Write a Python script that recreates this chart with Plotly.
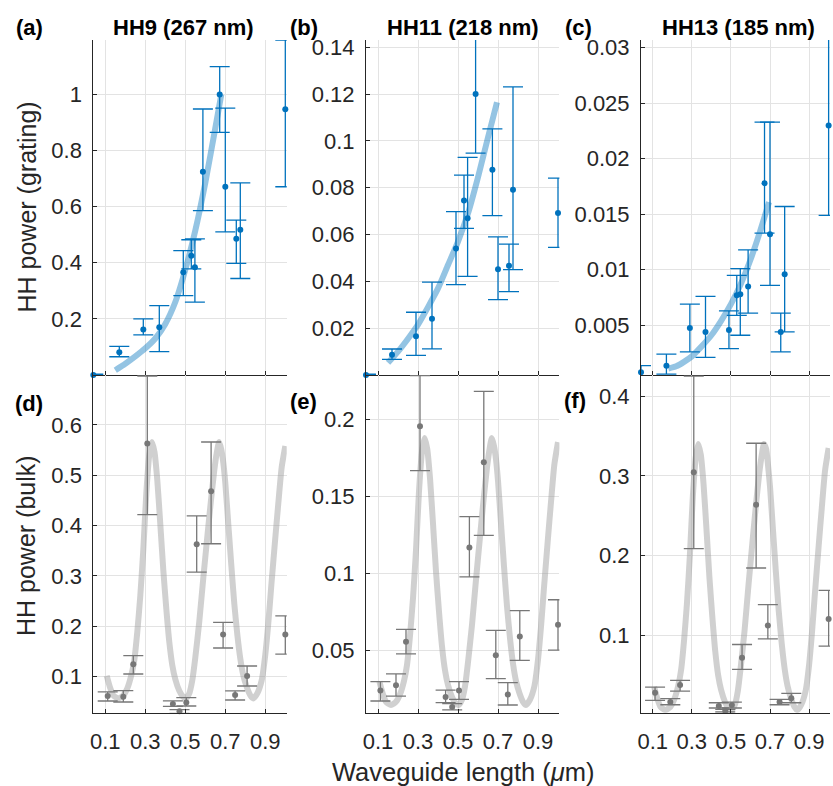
import numpy as np
import plotly.graph_objects as go

# ---------------- data ----------------
x_grating = [0.04, 0.17, 0.29, 0.37, 0.49, 0.53, 0.548, 0.588, 0.672, 0.70, 0.755, 0.775, 1.0]
x_bulk = [0.112, 0.19, 0.24, 0.31, 0.438, 0.471, 0.505, 0.557, 0.629, 0.689, 0.749, 0.809, 1.0]

hh9_grating = [0.0, 0.081, 0.162, 0.170, 0.366, 0.425, 0.384, 0.724, 1.0, 0.671, 0.486, 0.518, 0.947]
hh9_grating_hi = [0.003, 0.102, 0.200, 0.247, 0.443, 0.482, 0.485, 0.948, 1.099, 0.951, 0.552, 0.685, 1.194]
hh9_grating_lo = [0.0, 0.065, 0.143, 0.083, 0.283, 0.378, 0.260, 0.586, 0.865, 0.510, 0.398, 0.344, 0.671]

hh11_grating = [0.0, 0.0087, 0.0166, 0.024, 0.054, 0.0745, 0.067, 0.120, 0.0877, 0.0452, 0.0467, 0.0791, 0.0692]
hh11_grating_hi = [0.0004, 0.0111, 0.0268, 0.0397, 0.0698, 0.0854, 0.0930, 0.1434, 0.1051, 0.059, 0.0559, 0.1231, 0.0841]
hh11_grating_lo = [0.0, 0.0067, 0.0084, 0.0112, 0.0386, 0.0626, 0.0421, 0.0948, 0.0681, 0.0322, 0.0356, 0.045, 0.0545]

hh13_grating = [0.00077, 0.00136, 0.00476, 0.0044, 0.00458, 0.0077, 0.0078, 0.0085, 0.0178, 0.0132, 0.0044, 0.0096, 0.0230]
hh13_grating_hi = [0.00136, 0.0024, 0.0069, 0.0076, 0.0063, 0.0095, 0.0101, 0.0118, 0.0233, 0.0233, 0.0061, 0.0157, 0.0308]
hh13_grating_lo = [0.00018, 0.0006, 0.0026, 0.0021, 0.0029, 0.0059, 0.0041, 0.0061, 0.0133, 0.0086, 0.0026, 0.0044, 0.0149]

hh9_bulk = [0.0617, 0.0604, 0.125, 0.563, 0.0458, 0.0313, 0.049, 0.363, 0.468, 0.184, 0.0636, 0.1014, 0.184]
hh9_bulk_hi = [0.070, 0.0723, 0.1418, 0.697, 0.052, 0.0346, 0.0584, 0.4195, 0.566, 0.208, 0.072, 0.1213, 0.221]
hh9_bulk_lo = [0.0518, 0.0498, 0.1054, 0.422, 0.041, 0.0273, 0.0419, 0.3077, 0.364, 0.157, 0.0538, 0.0816, 0.145]

hh11_bulk = [0.024, 0.0273, 0.0556, 0.1957, 0.0197, 0.0132, 0.024, 0.1169, 0.1723, 0.0468, 0.0214, 0.0591, 0.0667]
hh11_bulk_hi = [0.0297, 0.0348, 0.0636, 0.2286, 0.0242, 0.0154, 0.0297, 0.137, 0.2184, 0.063, 0.029, 0.0758, 0.0829]
hh11_bulk_lo = [0.0171, 0.0203, 0.0478, 0.1669, 0.016, 0.0113, 0.0182, 0.0978, 0.1247, 0.0316, 0.0145, 0.0435, 0.0502]

hh13_bulk = [0.0278, 0.0161, 0.0374, 0.3047, 0.0111, 0.0048, 0.0123, 0.0716, 0.2638, 0.1121, 0.0161, 0.0207, 0.1205]
hh13_bulk_hi = [0.0349, 0.0203, 0.0432, 0.4254, 0.0152, 0.0069, 0.0161, 0.0883, 0.341, 0.1385, 0.0194, 0.027, 0.1564]
hh13_bulk_lo = [0.0182, 0.0127, 0.0299, 0.2086, 0.0086, 0.0036, 0.0086, 0.057, 0.1844, 0.0954, 0.0127, 0.0152, 0.0863]

# fit curves
x_fit_hh9_grating = [0.15, 0.20, 0.25, 0.30, 0.35, 0.40, 0.45, 0.50, 0.55, 0.60, 0.65, 0.68]
y_fit_hh9_grating = [0.017, 0.040, 0.066, 0.095, 0.13, 0.182, 0.26, 0.375, 0.515, 0.685, 0.88, 1.0]
x_fit_hh11_grating = [0.15, 0.20, 0.25, 0.30, 0.35, 0.40, 0.45, 0.50, 0.55, 0.60, 0.65, 0.695]
y_fit_hh11_grating = [0.0052, 0.0100, 0.0155, 0.0215, 0.029, 0.037, 0.047, 0.057, 0.069, 0.0845, 0.1015, 0.1165]
x_fit_hh13_grating = [0.18, 0.22, 0.26, 0.30, 0.35, 0.40, 0.45, 0.50, 0.55, 0.60, 0.65, 0.695]
y_fit_hh13_grating = [0.0011, 0.0013, 0.0017, 0.0022, 0.0031, 0.0041, 0.0054, 0.0069, 0.0087, 0.0109, 0.0135, 0.0161]

x_fit_bulk = [0.107, 0.125, 0.14, 0.165, 0.19, 0.21, 0.23, 0.245, 0.26, 0.275, 0.29, 0.305, 0.32, 0.333,
              0.346, 0.36, 0.375, 0.39, 0.405, 0.42, 0.435, 0.45, 0.47, 0.485, 0.503, 0.52, 0.535, 0.55,
              0.57, 0.59, 0.61, 0.628, 0.645, 0.658, 0.669, 0.68, 0.69, 0.70, 0.715, 0.73, 0.745, 0.76,
              0.775, 0.79, 0.807, 0.825, 0.84, 0.86, 0.882, 0.90, 0.915, 0.93, 0.949, 0.965, 0.982, 1.0]
y_fit_hh9_bulk = [0.102, 0.077, 0.063, 0.057, 0.063, 0.077, 0.103, 0.133, 0.189, 0.261, 0.352, 0.464, 0.541, 0.566,
                  0.546, 0.490, 0.403, 0.312, 0.235, 0.169, 0.123, 0.095, 0.072, 0.062, 0.057, 0.067, 0.093, 0.138,
                  0.210, 0.296, 0.378, 0.449, 0.510, 0.546, 0.566, 0.551, 0.525, 0.485, 0.403, 0.322, 0.245, 0.184,
                  0.136, 0.103, 0.080, 0.063, 0.057, 0.067, 0.093, 0.144, 0.206, 0.281, 0.371, 0.444, 0.516, 0.558]
y_fit_hh11_bulk = [0.0298, 0.0214, 0.0166, 0.0145, 0.0166, 0.0214, 0.0301, 0.0405, 0.0596, 0.0839, 0.1151, 0.1533, 0.1793, 0.188,
                   0.1811, 0.162, 0.1325, 0.1013, 0.0752, 0.0527, 0.0371, 0.0275, 0.0197, 0.0162, 0.0145, 0.0180, 0.0266, 0.0423,
                   0.0666, 0.0960, 0.1238, 0.1481, 0.1689, 0.1811, 0.188, 0.1828, 0.1741, 0.1602, 0.1325, 0.1047, 0.0787, 0.0579,
                   0.0414, 0.0301, 0.0223, 0.0166, 0.0145, 0.0180, 0.0268, 0.044, 0.0653, 0.0908, 0.1216, 0.1464, 0.171, 0.1854]
y_fit_hh13_bulk = [0.0354, 0.0194, 0.010, 0.006, 0.010, 0.0194, 0.0361, 0.0561, 0.0928, 0.1396, 0.1997, 0.2732, 0.3233, 0.340,
                   0.3266, 0.2899, 0.2331, 0.173, 0.1229, 0.0795, 0.0494, 0.0311, 0.016, 0.0093, 0.006, 0.0127, 0.0294, 0.0594,
                   0.1062, 0.163, 0.2164, 0.2632, 0.3033, 0.3266, 0.340, 0.334, 0.3133, 0.2866, 0.2331, 0.1797, 0.1296, 0.0895,
                   0.0578, 0.0361, 0.021, 0.010, 0.006, 0.0127, 0.0297, 0.0628, 0.1039, 0.153, 0.2121, 0.2598, 0.3073, 0.335]

titles = ["HH9 (267 nm)", "HH11 (218 nm)", "HH13 (185 nm)"]
panel_tags = ["(a)", "(b)", "(c)", "(d)", "(e)", "(f)"]
x_tickvals = [0.1, 0.3, 0.5, 0.7, 0.9]
x_ticktext = ["0.1", "0.3", "0.5", "0.7", "0.9"]
y_ticks = [
    ([0.2, 0.4, 0.6, 0.8, 1.0], ["0.2", "0.4", "0.6", "0.8", "1"]),
    ([0.02, 0.04, 0.06, 0.08, 0.1, 0.12, 0.14], ["0.02", "0.04", "0.06", "0.08", "0.1", "0.12", "0.14"]),
    ([0.005, 0.01, 0.015, 0.02, 0.025, 0.03], ["0.005", "0.01", "0.015", "0.02", "0.025", "0.03"]),
    ([0.1, 0.2, 0.3, 0.4, 0.5, 0.6], ["0.1", "0.2", "0.3", "0.4", "0.5", "0.6"]),
    ([0.05, 0.1, 0.15, 0.2], ["0.05", "0.1", "0.15", "0.2"]),
    ([0.1, 0.2, 0.3, 0.4], ["0.1", "0.2", "0.3", "0.4"]),
]
y_ranges = [[0, 1.194], [0, 0.1431], [0.00052, 0.0307], [0.0286, 0.699], [0.0095, 0.229], [0.0027, 0.4267]]
x_range = [0.04, 1.007]

# ---------------- figure ----------------
W, H = 833, 786
FONT = "Liberation Sans, Arial, Helvetica, sans-serif"
AX = "#262626"
BLUE = "#0072BD"
BLUE_FIT = "rgba(0,114,189,0.42)"
GRAY = "#777777"
GRAY_FIT = "rgba(150,150,150,0.45)"

col_px = [(93.3, 286.7), (366.0, 559.4), (641.0, 830.0)]
row_px = [(40.0, 375.0), (375.0, 712.7)]

fig = go.Figure()

panels = [
    (x_grating, hh9_grating, hh9_grating_hi, hh9_grating_lo, x_fit_hh9_grating, y_fit_hh9_grating, BLUE, BLUE_FIT),
    (x_grating, hh11_grating, hh11_grating_hi, hh11_grating_lo, x_fit_hh11_grating, y_fit_hh11_grating, BLUE, BLUE_FIT),
    (x_grating, hh13_grating, hh13_grating_hi, hh13_grating_lo, x_fit_hh13_grating, y_fit_hh13_grating, BLUE, BLUE_FIT),
    (x_bulk, hh9_bulk, hh9_bulk_hi, hh9_bulk_lo, x_fit_bulk, y_fit_hh9_bulk, GRAY, GRAY_FIT),
    (x_bulk, hh11_bulk, hh11_bulk_hi, hh11_bulk_lo, x_fit_bulk, y_fit_hh11_bulk, GRAY, GRAY_FIT),
    (x_bulk, hh13_bulk, hh13_bulk_hi, hh13_bulk_lo, x_fit_bulk, y_fit_hh13_bulk, GRAY, GRAY_FIT),
]

layout = {}
for i, (xs, ys, hi, lo, xf, yf, col, fcol) in enumerate(panels):
    r, c = divmod(i, 3)
    n = i + 1
    xa = "x" if n == 1 else f"x{n}"
    ya = "y" if n == 1 else f"y{n}"
    ys_a = np.array(ys)
    fig.add_trace(go.Scatter(x=xf, y=yf, mode="lines", xaxis=xa, yaxis=ya,
                             line=dict(color=fcol, width=6, shape="spline", smoothing=0.6),
                             hoverinfo="skip", showlegend=False))
    fig.add_trace(go.Scatter(
        x=xs, y=ys, mode="markers", xaxis=xa, yaxis=ya, cliponaxis=False,
        marker=dict(color=col, size=6),
        error_y=dict(type="data", symmetric=False, array=list(np.array(hi) - ys_a),
                     arrayminus=list(ys_a - np.array(lo)), color=col, thickness=1.3, width=10),
        showlegend=False))
    x0, x1 = col_px[c]
    y0, y1 = row_px[r]
    common = dict(showline=True, linecolor=AX, linewidth=1, mirror=False, showgrid=True,
                  gridcolor="#e3e3e3", gridwidth=1, zeroline=False, ticks="inside", ticklen=4,
                  tickcolor=AX, tickfont=dict(family=FONT, size=22, color=AX), automargin=False)
    layout["xaxis" if n == 1 else f"xaxis{n}"] = dict(
        domain=[x0 / W, x1 / W], range=x_range, anchor=ya, tickvals=x_tickvals,
        ticktext=x_ticktext, showticklabels=(r == 1), ticklabelstandoff=9, **common)
    tv, tt = y_ticks[i]
    layout["yaxis" if n == 1 else f"yaxis{n}"] = dict(
        domain=[1 - y1 / H, 1 - y0 / H], range=y_ranges[i], anchor=xa, tickvals=tv,
        ticktext=tt, ticklabelstandoff=6, **common)

ann = []
tag_pos = [(29, 27.5), (303.5, 27.5), (578.5, 27.5), (29, 403.5), (303.5, 401), (575, 400)]
for t, (px, py) in zip(panel_tags, tag_pos):
    ann.append(dict(text=f"<b>{t}</b>", x=px / W, y=1 - py / H, xref="paper", yref="paper",
                    showarrow=False, font=dict(family=FONT, size=22, color="black"),
                    xanchor="center", yanchor="middle"))
for t, px in zip(titles, [183, 463, 738]):
    ann.append(dict(text=f"<b>{t}</b>", x=px / W, y=1 - 27.5 / H, xref="paper", yref="paper",
                    showarrow=False, font=dict(family=FONT, size=22, color="black"),
                    xanchor="center", yanchor="middle"))
ann.append(dict(text="HH power (grating)", x=26 / W, y=1 - 207.5 / H, xref="paper", yref="paper",
                showarrow=False, textangle=-90, font=dict(family=FONT, size=25, color=AX),
                xanchor="center", yanchor="middle"))
ann.append(dict(text="HH power (bulk)", x=26 / W, y=1 - 546 / H, xref="paper", yref="paper",
                showarrow=False, textangle=-90, font=dict(family=FONT, size=25, color=AX),
                xanchor="center", yanchor="middle"))
ann.append(dict(text="Waveguide length (<i>μ</i>m)", x=463 / W, y=1 - 772 / H, xref="paper", yref="paper",
                showarrow=False, font=dict(family=FONT, size=25.5, color=AX),
                xanchor="center", yanchor="middle"))

fig.update_layout(width=W, height=H, margin=dict(l=0, r=0, t=0, b=0),
                  paper_bgcolor="white", plot_bgcolor="white", showlegend=False,
                  annotations=ann, **layout)
fig.write_html("out.html", config={"displayModeBar": False},
               post_script="document.body.style.margin='0px';document.body.style.overflow='hidden';")
